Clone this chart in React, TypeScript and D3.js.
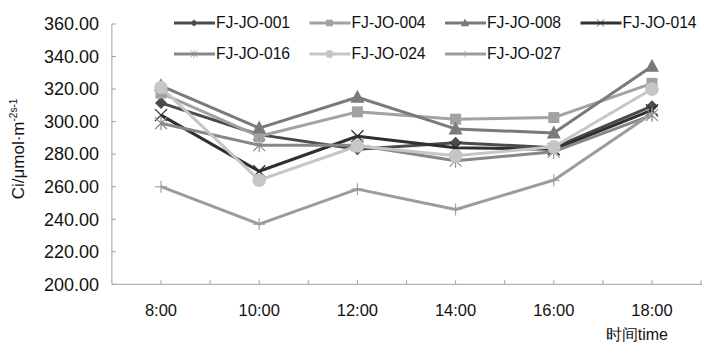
import React from "react";
import * as d3 from "d3";

const times = ["8:00", "10:00", "12:00", "14:00", "16:00", "18:00"];
const yTicks = [200, 220, 240, 260, 280, 300, 320, 340, 360];

const names = ["FJ-JO-001", "FJ-JO-004", "FJ-JO-008", "FJ-JO-014", "FJ-JO-016", "FJ-JO-024", "FJ-JO-027"];
const s001 = [311.5, 292, 283, 287, 284, 309.5];
const s004 = [317.5, 291, 306, 301.5, 302.5, 323.5];
const s008 = [322, 296, 315, 295.5, 293, 334];
const s014 = [304, 269.5, 291, 284, 283, 307];
const s016 = [299, 285.5, 285.5, 276, 281.5, 304];
const s024 = [321, 264, 285, 279, 284.5, 320];
const s027 = [260, 237, 258.5, 246, 264, 305];
const seriesValues = [s001, s004, s008, s014, s016, s024, s027];

const colors = ["#4b4b4b", "#a2a2a2", "#7a7a7a", "#2f2f2f", "#878787", "#c6c6c6", "#9c9c9c"];
const shapes = ["diamond", "square", "triangle", "x", "asterisk", "circle", "plus"];

const W = 702;
const H = 344;
const font = "Liberation Sans, Arial, sans-serif";

const Marker = ({ shape, color, x, y, s = 1 }) => {
  const t = `translate(${x},${y}) scale(${s})`;
  switch (shape) {
    case "diamond":
      return <path transform={t} d="M0,-6L6,0L0,6L-6,0Z" fill={color} />;
    case "square":
      return <rect transform={t} x={-5.5} y={-5.5} width={11} height={11} fill={color} />;
    case "triangle":
      return <path transform={t} d="M0,-7.5L7,5.5L-7,5.5Z" fill={color} />;
    case "circle":
      return <circle transform={t} r={6.8} fill={color} />;
    case "x":
      return <path transform={t} d="M-6,-6L6,6M6,-6L-6,6" stroke={color} strokeWidth={1.3} fill="none" />;
    case "asterisk":
      return (
        <path transform={t} d="M-6,-6L6,6M6,-6L-6,6M0,-7L0,7" stroke={color} strokeWidth={1.1} fill="none" />
      );
    case "plus":
      return <path transform={t} d="M0,-6L0,6M-6,0L6,0" stroke={color} strokeWidth={1.1} fill="none" />;
    default:
      return null;
  }
};

export default function App() {
  const x = d3.scalePoint().domain(times).range([161, 652]);
  const y = d3.scaleLinear().domain([200, 360]).range([284.3, 24]);
  const line = d3
    .line()
    .x((d, i) => x(times[i]))
    .y((d) => y(d));

  // ticks at category centres and between them
  const half = x.step() / 2;
  const x0 = x(times[0]) - half;
  const xTickPos = d3.range(1, 13).map((k) => x0 + k * half);

  return (
    <svg
      width={W}
      height={H}
      style={{ position: "absolute", left: 0, top: 0, background: "#fff" }}
      fontFamily={font}
    >
      {/* axes */}
      <line x1={x0} x2={x0} y1={y(360)} y2={y(200)} stroke="#a0a0a0" strokeWidth={1} />
      <line x1={x0} x2={W} y1={y(200)} y2={y(200)} stroke="#a0a0a0" strokeWidth={1} />
      {yTicks.map((v) => (
        <g key={v}>
          <line x1={x0} x2={x0 + 4} y1={y(v)} y2={y(v)} stroke="#a0a0a0" />
          <text x={99} y={y(v)} dy="0.35em" textAnchor="end" fontSize={18} fill="#111">
            {v.toFixed(2)}
          </text>
        </g>
      ))}
      {xTickPos.map((p, i) => (
        <line key={i} x1={p} x2={p} y1={y(200)} y2={y(200) - 4} stroke="#a0a0a0" />
      ))}
      {times.map((t) => (
        <text key={t} x={x(t)} y={316} textAnchor="middle" fontSize={16.5} fill="#111">
          {t}
        </text>
      ))}
      <text x={668} y={340} textAnchor="end" fontSize={16} fill="#111">
        时间time
      </text>
      <text transform="translate(24,149) rotate(-90)" textAnchor="middle" fontSize={17} fill="#111">
        Ci/μmol·m
        <tspan fontSize={10} dy={-7}>
          -2s-1
        </tspan>
      </text>

      {/* series */}
      {seriesValues.map((vals, si) => (
        <g key={names[si]}>
          <path d={line(vals)} fill="none" stroke={colors[si]} strokeWidth={3} strokeLinejoin="round" />
          {vals.map((v, i) => (
            <Marker key={i} shape={shapes[si]} color={colors[si]} x={x(times[i])} y={y(v)} />
          ))}
        </g>
      ))}

      {/* legend */}
      {names.map((n, i) => {
        const col = i < 4 ? i : i - 4;
        const row = i < 4 ? 0 : 1;
        const lx = 174 + col * 135.5;
        const ly = row === 0 ? 23 : 54;
        return (
          <g key={n}>
            <line x1={lx} x2={lx + 41} y1={ly} y2={ly} stroke={colors[i]} strokeWidth={3} />
            <Marker shape={shapes[i]} color={colors[i]} x={lx + 20} y={ly} s={0.6} />
            <text x={lx + 42} y={ly} dy="0.35em" fontSize={15.7} fill="#111">
              {n}
            </text>
          </g>
        );
      })}
    </svg>
  );
}
